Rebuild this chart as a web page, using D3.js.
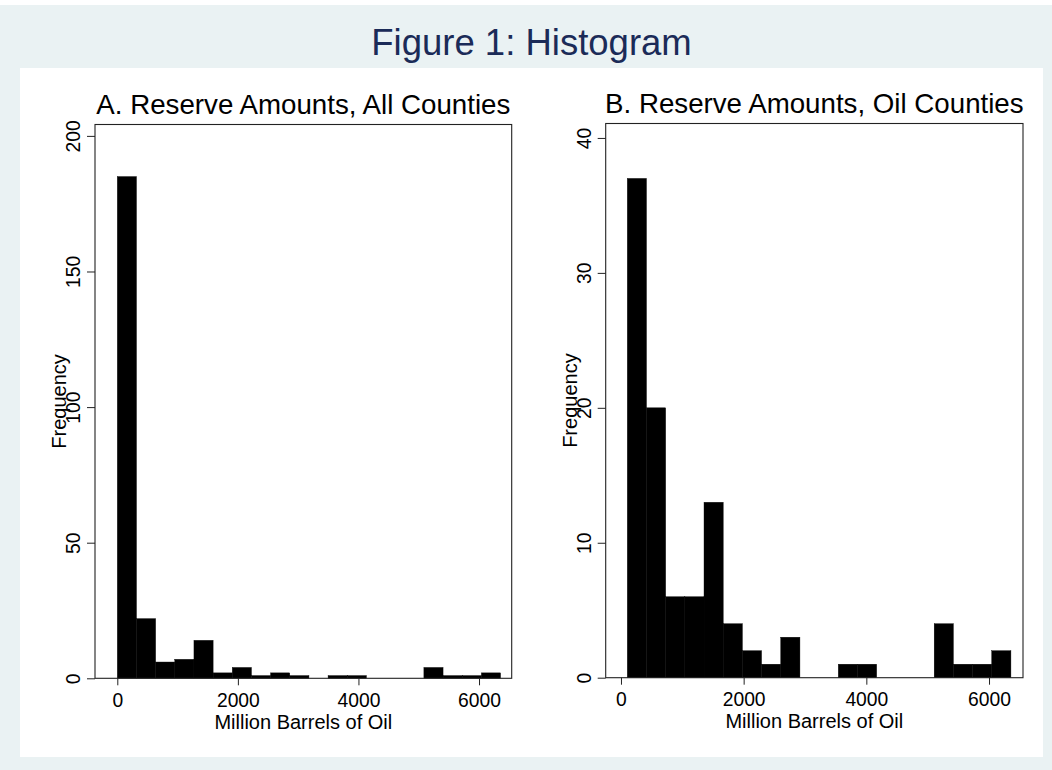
<!DOCTYPE html>
<html>
<head>
<meta charset="utf-8">
<script src="https://cdn.jsdelivr.net/npm/d3@7"></script>
<style>
  html, body { margin: 0; padding: 0; background: #ffffff; }
  svg { display: block; font-family: "Liberation Sans", Arial, Helvetica, sans-serif; }
</style>
</head>
<body>
<svg id="chart"></svg>
<script>
// frequencies per bin (20 equal-width bins)
const countsAll = [185, 22, 6, 7, 14, 2, 4, 1, 2, 1, 0, 1, 1, 0, 0, 0, 4, 1, 1, 2];
const countsOil = [37, 20, 6, 6, 13, 4, 2, 1, 3, 0, 0, 1, 1, 0, 0, 0, 4, 1, 1, 2];

// min / max of the reserve variable (million barrels)
const rangeAll = [0, 6357];
const rangeOil = [103, 6357];

const xTicks = [0, 2000, 4000, 6000];
const yTicksAll = [0, 50, 100, 150, 200];
const yTicksOil = [0, 10, 20, 30, 40];

const panelTitles = ['A. Reserve Amounts, All Counties', 'B. Reserve Amounts, Oil Counties'];
const mainTitle = 'Figure 1: Histogram';
const xTitle = 'Million Barrels of Oil';
const yTitle = 'Frequency';

const width = 1052;
const height = 770;
const colors = {
  region: '#eaf2f3',
  plot: '#ffffff',
  title: '#1b2b58',
  text: '#000000',
  axis: '#222222',
  bar: '#000000'
};

const svg = d3.select('#chart')
  .attr('width', width)
  .attr('height', height);

svg.append('rect')
  .attr('x', 0).attr('y', 5)
  .attr('width', width).attr('height', height - 5)
  .attr('fill', colors.region);

svg.append('rect')
  .attr('x', 20).attr('y', 68)
  .attr('width', 1023).attr('height', 689)
  .attr('fill', colors.plot);

svg.append('text')
  .attr('x', 531.5)
  .attr('y', 55)
  .attr('text-anchor', 'middle')
  .style('font-size', '36.5px')
  .style('fill', colors.title)
  .text(mainTitle);

function drawPanel({ box, xDomain, yDomain, counts, range, yTicks, title }) {
  const g = svg.append('g');

  const x = d3.scaleLinear().domain(xDomain).range([box.left, box.right]);
  const y = d3.scaleLinear().domain(yDomain).range([box.bottom, box.top]);

  const binWidth = (range[1] - range[0]) / counts.length;
  const bins = counts.map((c, i) => ({
    x0: range[0] + i * binWidth,
    x1: range[0] + (i + 1) * binWidth,
    count: c
  }));

  g.append('g')
    .selectAll('rect')
    .data(bins.filter(b => b.count > 0))
    .join('rect')
    .attr('x', d => x(d.x0))
    .attr('y', d => y(d.count))
    .attr('width', d => x(d.x1) - x(d.x0))
    .attr('height', d => y(0) - y(d.count))
    .attr('fill', colors.bar)
    .attr('stroke', colors.bar)
    .attr('stroke-width', 0.4);

  // plot region outline
  g.append('rect')
    .attr('x', box.left)
    .attr('y', box.top)
    .attr('width', box.right - box.left)
    .attr('height', box.bottom - box.top)
    .attr('fill', 'none')
    .attr('stroke', colors.axis)
    .attr('stroke-width', 1.1);

  const xAxis = g.append('g')
    .attr('transform', `translate(0,${box.bottom})`)
    .call(d3.axisBottom(x).tickValues(xTicks).tickSize(7).tickPadding(1).tickFormat(d3.format('d')));
  xAxis.select('.domain').remove();
  xAxis.selectAll('line').attr('stroke', colors.axis);
  xAxis.selectAll('text')
    .attr('dy', null)
    .attr('y', 28.7)
    .style('font-size', '19.3px')
    .style('fill', colors.text)
    .style('font-family', null);

  const yAxis = g.append('g')
    .attr('transform', `translate(${box.left},0)`)
    .call(d3.axisLeft(y).tickValues(yTicks).tickSize(8).tickFormat(d3.format('d')));
  yAxis.select('.domain').remove();
  yAxis.selectAll('line').attr('stroke', colors.axis);
  yAxis.selectAll('text')
    .attr('x', null)
    .attr('dy', null)
    .attr('transform', 'translate(-15,0) rotate(-90)')
    .attr('text-anchor', 'middle')
    .style('font-size', '19.3px')
    .style('fill', colors.text)
    .style('font-family', null);

  const midX = (box.left + box.right) / 2;
  const midY = (box.top + box.bottom) / 2;

  g.append('text')
    .attr('x', midX)
    .attr('y', box.bottom + 50.5)
    .attr('text-anchor', 'middle')
    .style('font-size', '20px')
    .style('fill', colors.text)
    .text(xTitle);

  g.append('text')
    .attr('transform', `translate(${box.left - 29},${midY}) rotate(-90)`)
    .attr('text-anchor', 'middle')
    .style('font-size', '20px')
    .style('fill', colors.text)
    .text(yTitle);

  g.append('text')
    .attr('x', midX)
    .attr('y', box.top - 10.5)
    .attr('text-anchor', 'middle')
    .style('font-size', '27.7px')
    .style('fill', colors.text)
    .text(title);
}

drawPanel({
  box: { left: 95, right: 511.7, top: 124.5, bottom: 678.3 },
  xDomain: [-370, 6542],
  yDomain: [0, 204.2],
  counts: countsAll,
  range: rangeAll,
  yTicks: yTicksAll,
  title: panelTitles[0]
});

drawPanel({
  box: { left: 605.7, right: 1023, top: 123.5, bottom: 677.7 },
  xDomain: [-249, 6554],
  yDomain: [0, 41.07],
  counts: countsOil,
  range: rangeOil,
  yTicks: yTicksOil,
  title: panelTitles[1]
});
</script>
</body>
</html>
